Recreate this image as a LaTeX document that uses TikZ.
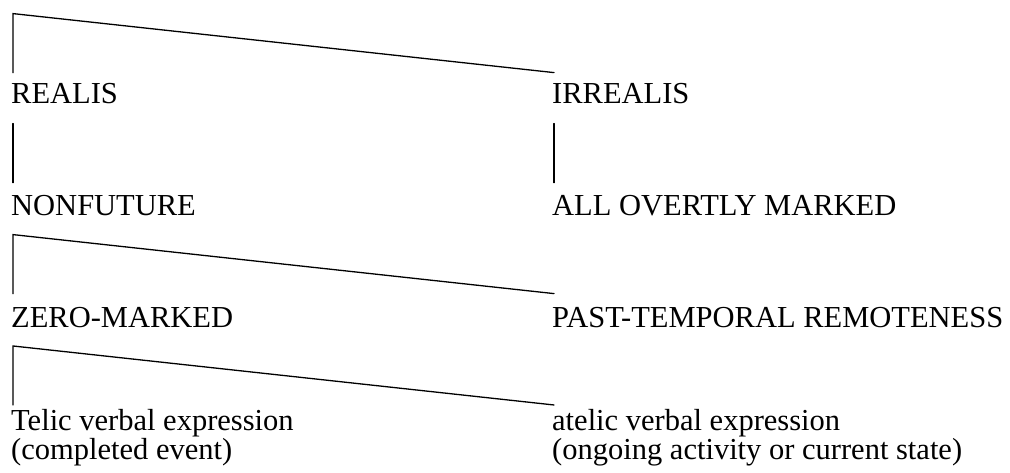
\documentclass[tikz,border=0pt]{standalone}
\usepackage{fontspec}
\setmainfont{Liberation Serif}
\usetikzlibrary{positioning}
\tikzset{
  lbl/.style={anchor=base west,inner sep=0pt,align=left,font=\fontsize{30.5}{27.5}\selectfont},
  br/.style={line width=1.3pt,line cap=round,line join=miter}
}

\begin{document}
\begin{tikzpicture}[x=1pt,y=-1pt]
\useasboundingbox (0,0) rectangle (1010,473);
\node[lbl] (realis) at (11,104) {REALIS};
\node[lbl] (irrealis) at (552,104) {IRREALIS};
\node[lbl] (nonfut) at (11,216) {NONFUTURE};
\node[lbl] (overt) at (552,216) {ALL OVERTLY MARKED};
\node[lbl] (zero) at (11,327) {ZERO-MARKED};
\node[lbl] (past) at (552,327) {PAST-TEMPORAL REMOTENESS};
\node[lbl] (telic) at (11,459) {Telic verbal expression\\(completed event)};
\node[lbl] (atelic) at (552,459) {atelic verbal expression\\(ongoing activity or current state)};
% brackets
\draw[br] ([xshift=2pt,yshift=11pt]realis.north west) -- ++(0,59pt) -- ([xshift=2pt,yshift=11pt]irrealis.north west);
\draw[br] ([xshift=2pt,yshift=-19pt]realis.south west) -- ([xshift=2pt,yshift=13pt]nonfut.north west);
\draw[br] ([xshift=2pt,yshift=-19pt]irrealis.south west) -- ([xshift=2pt,yshift=13pt]overt.north west);
\draw[br] ([xshift=2pt,yshift=13pt]zero.north west) -- ++(0,59pt) -- ([xshift=2pt,yshift=13pt]past.north west);
\draw[br] ([xshift=2pt,yshift=4pt]telic.north west) -- ++(0,59pt) -- ([xshift=2pt,yshift=4pt]atelic.north west);
\end{tikzpicture}
\end{document}
